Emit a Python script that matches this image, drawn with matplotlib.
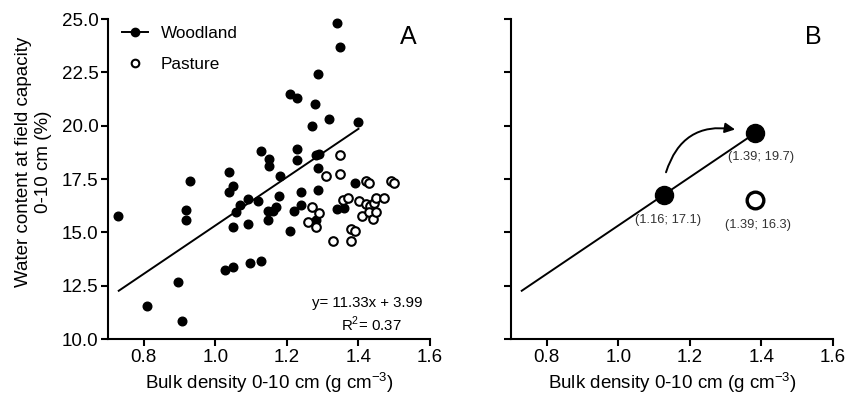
import matplotlib
matplotlib.use("Agg")
import matplotlib.pyplot as plt
from matplotlib.patches import FancyArrowPatch
import numpy as np

plt.rcParams['font.family'] = ['Liberation Sans', 'DejaVu Sans']
plt.rcParams['mathtext.fontset'] = 'custom'
plt.rcParams['mathtext.rm'] = 'Liberation Sans'

# Panel A data
wood_x = [1.340, 1.349, 1.286, 1.209, 1.229, 1.279, 1.319, 1.269, 1.400, 1.129,
          1.229, 1.150, 1.229, 1.282, 1.289, 1.150, 1.286, 1.039, 1.180, 0.928,
          1.390, 0.728, 0.919, 0.919, 1.049, 1.039, 1.068, 1.090, 1.119, 1.058,
          1.049, 1.090, 1.179, 1.148, 1.160, 1.170, 1.148, 1.220, 1.239, 1.239,
          1.209, 1.288, 1.281, 1.340, 1.359, 1.027, 1.049, 1.098, 1.129, 0.897,
          0.808, 0.908]
wood_y = [24.80, 23.70, 22.42, 21.50, 21.31, 21.00, 20.31, 20.00, 20.19, 18.80,
          18.91, 18.44, 18.38, 18.62, 18.67, 18.12, 18.00, 17.85, 17.62, 17.41,
          17.30, 15.76, 16.06, 15.56, 17.19, 16.88, 16.29, 16.58, 16.48, 15.97,
          15.25, 15.38, 16.68, 16.00, 16.00, 16.19, 15.58, 15.98, 16.88, 16.30,
          15.06, 16.98, 15.56, 16.08, 16.15, 13.25, 13.36, 13.56, 13.65, 12.66,
          11.56, 10.84]
past_x = [1.349, 1.310, 1.349, 1.420, 1.429, 1.491, 1.499, 1.270, 1.289, 1.260,
          1.280, 1.357, 1.371, 1.401, 1.420, 1.432, 1.443, 1.450, 1.471, 1.410,
          1.429, 1.441, 1.450, 1.378, 1.389, 1.329, 1.378]
past_y = [18.61, 17.65, 17.72, 17.41, 17.30, 17.41, 17.30, 16.20, 15.89, 15.47,
          15.25, 16.51, 16.59, 16.47, 16.31, 16.23, 16.36, 16.59, 16.59, 15.78,
          15.97, 15.64, 15.97, 15.15, 15.06, 14.59, 14.59]

slope, intercept = 11.33, 3.99
line_x = [0.73, 1.40]

# Panel B data
b_wood_x = [1.128, 1.383]
b_wood_y = [16.75, 19.67]
b_past_x = [1.381]
b_past_y = [16.51]
b_labels = ["(1.16; 17.1)", "(1.39; 19.7)", "(1.39; 16.3)"]

xticks = [0.8, 1.0, 1.2, 1.4, 1.6]
yticks = [10.0, 12.5, 15.0, 17.5, 20.0, 22.5, 25.0]

fig = plt.figure(figsize=(8.48, 4.0), dpi=100)
axA = fig.add_axes([108/848, 1-339/400, 322/848, 320/400])
axB = fig.add_axes([511/848, 1-339/400, 322/848, 320/400])

for ax in (axA, axB):
    ax.set_xlim(0.7, 1.6)
    ax.set_ylim(10, 25)
    ax.set_xticks(xticks)
    ax.set_xticklabels([f"{t:.1f}" for t in xticks])
    ax.set_yticks(yticks)
    for s in ('top', 'right'):
        ax.spines[s].set_visible(False)
    for s in ('left', 'bottom'):
        ax.spines[s].set_linewidth(1.5)
    ax.tick_params(direction='out', length=5, width=1.5, labelsize=13.5, pad=2)
    ax.set_xlabel(r"Bulk density 0-10 cm (g cm$^{-3}$)", fontsize=13.5, labelpad=3)

axA.set_yticklabels([f"{t:.1f}" for t in yticks])
axB.set_yticklabels([])
axA.set_ylabel("Water content at field capacity\n0-10 cm (%)", fontsize=13.5)
axA.yaxis.set_label_coords(-0.175, 0.555)

lx = np.array(line_x)
axA.plot(lx, slope*lx + intercept, color='black', lw=1.4, zorder=2)
axA.plot(wood_x, wood_y, 'o', color='black', ms=6.2, zorder=3, clip_on=False)
axA.plot(past_x, past_y, 'o', mfc='white', mec='black', mew=1.5, ms=6.2, zorder=3)

h_wood = plt.Line2D([], [], color='black', marker='o', ms=6, lw=1.4)
h_past = plt.Line2D([], [], color='black', marker='o', mfc='white', mew=1.5, ms=5.5, lw=0)
axA.legend([h_wood, h_past], ['Woodland', 'Pasture'], loc='upper left',
           bbox_to_anchor=(-0.005, 1.026), frameon=False, fontsize=12.3,
           handlelength=1.55, labelspacing=0.95, handletextpad=0.75)

axA.text(1.54, 24.15, "A", fontsize=18, ha='center', va='center')
axA.text(1.58, 11.69, "y= 11.33x + 3.99", fontsize=10.8, ha='right', va='center')
axA.text(1.521, 10.70, r"R$^{2}$= 0.37", fontsize=10.8, ha='right', va='center')

# Panel B
axB.plot(lx, slope*lx + intercept, color='black', lw=1.4, zorder=2)
axB.plot(b_wood_x, b_wood_y, 'o', color='black', ms=13, zorder=3)
axB.plot(b_past_x, b_past_y, 'o', mfc='white', mec='black', mew=2.4, ms=12, zorder=3)
axB.text(1.14, 15.6, b_labels[0], fontsize=9.3, color='#333333', ha='center', va='center')
axB.text(1.40, 18.55, b_labels[1], fontsize=9.3, color='#333333', ha='center', va='center')
axB.text(1.39, 15.35, b_labels[2], fontsize=9.3, color='#333333', ha='center', va='center')
arrow = FancyArrowPatch((1.131, 17.69), (1.334, 19.80),
                        connectionstyle="arc3,rad=-0.45", arrowstyle='-|>',
                        mutation_scale=15, color='black', lw=1.4)
axB.add_patch(arrow)
axB.text(1.545, 24.15, "B", fontsize=18, ha='center', va='center')

fig.savefig("out.png", dpi=100)
